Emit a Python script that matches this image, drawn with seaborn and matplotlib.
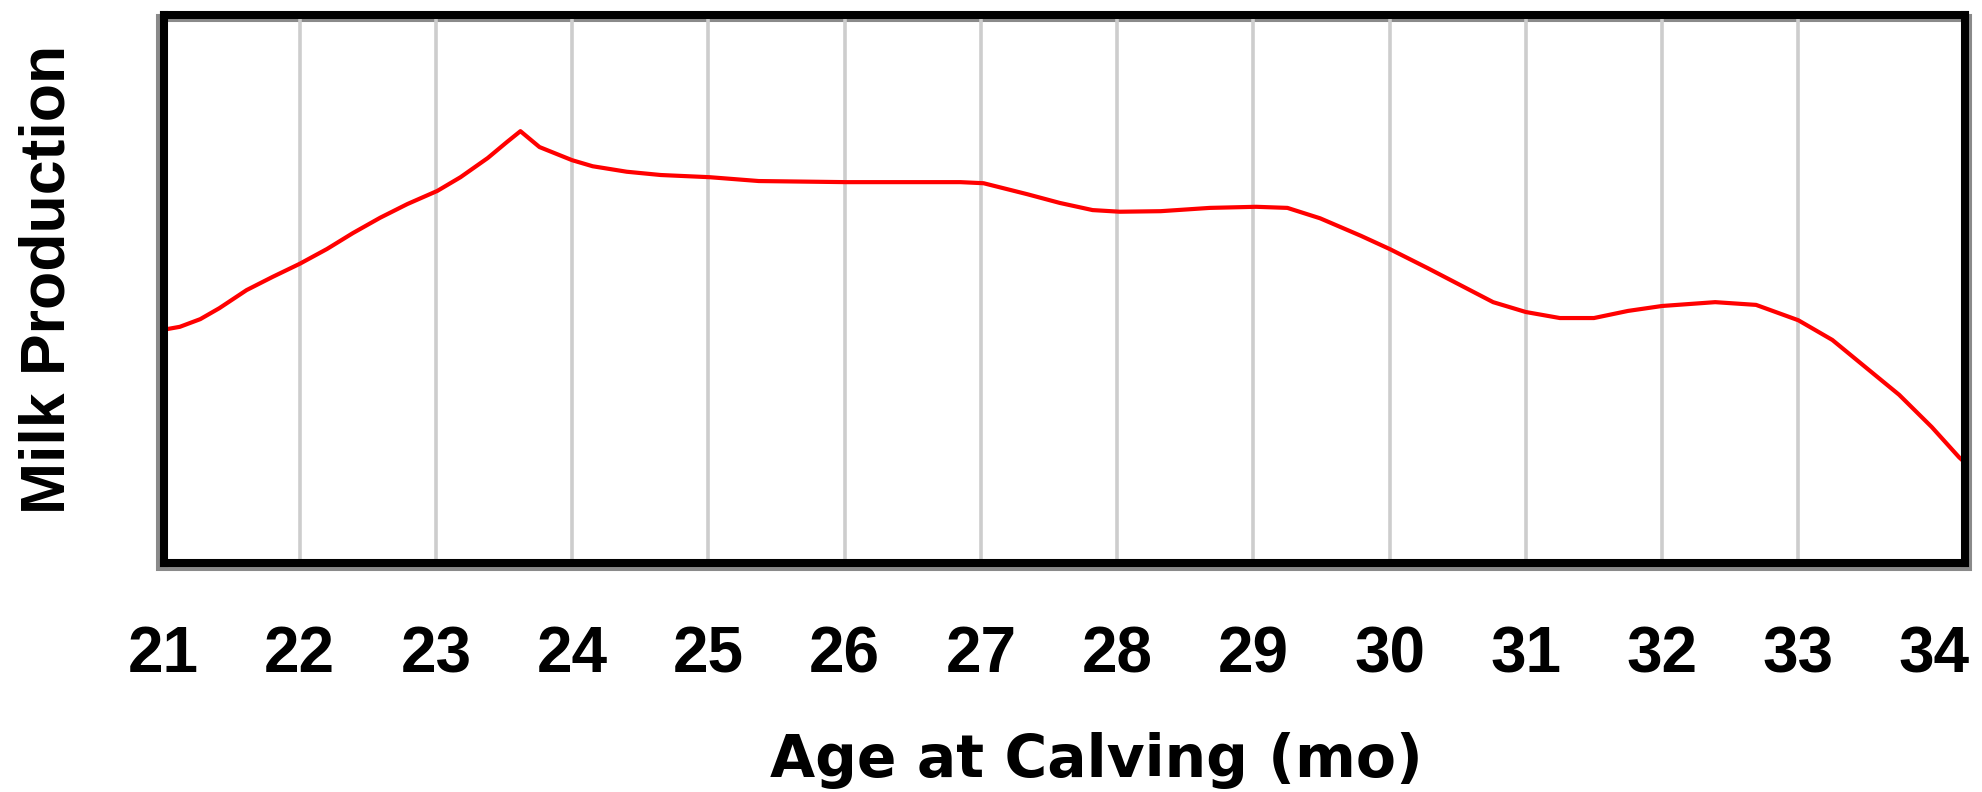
import matplotlib
matplotlib.use("Agg")
import matplotlib.pyplot as plt
from matplotlib.patches import Rectangle
import seaborn as sns
import pandas as pd

# Data (relative milk production, 0-100 scale)
age_months = [21.03, 21.12, 21.27, 21.41, 21.61, 21.80, 22.0, 22.20, 22.39, 22.59,
              22.79, 23.01, 23.18, 23.38, 23.52, 23.62, 23.76, 23.90, 24.0, 24.15,
              24.40, 24.65, 25.01, 25.37, 26.01, 26.85, 27.02, 27.34, 27.58, 27.82,
              28.02, 28.32, 28.68, 29.02, 29.25, 29.49, 29.79, 30.0, 30.28, 30.52,
              30.76, 31.0, 31.25, 31.50, 31.75, 32.0, 32.39, 32.69, 33.0, 33.25,
              33.49, 33.74, 33.98, 34.18, 34.22]
milk_production = [42.7, 43.1, 44.5, 46.5, 49.8, 52.2, 54.6, 57.3, 60.2, 63.0,
                   65.5, 67.9, 70.4, 73.9, 76.8, 78.8, 75.9, 74.5, 73.5, 72.4,
                   71.4, 70.8, 70.4, 69.7, 69.5, 69.5, 69.3, 67.3, 65.7, 64.4,
                   64.1, 64.2, 64.8, 65.0, 64.8, 62.9, 59.7, 57.3, 53.8, 50.7,
                   47.6, 45.8, 44.7, 44.7, 46.0, 46.9, 47.6, 47.1, 44.3, 40.7,
                   35.8, 30.7, 24.8, 19.3, 18.4]
tick_values = list(range(21, 35))
tick_labels = [str(v) for v in tick_values]
x_label = "Age at Calving (mo)"
y_label = "Milk Production"

df = pd.DataFrame({"age": age_months, "milk": milk_production})

sns.set_theme(style="white")
plt.rcParams["font.family"] = ["Liberation Sans", "DejaVu Sans"]

W, H = 1982, 792
fig = plt.figure(figsize=(W / 100, H / 100), dpi=100)
fig.patch.set_facecolor("white")

# axes frame centre lines (pixels): left 163.5, right 1964.5, top 15, bottom 563
ax = fig.add_axes([163.5 / W, (H - 563) / H, (1964.5 - 163.5) / W, (563 - 15) / H])
ax.patch.set_alpha(0)

# grey shadow of the frame
shadow = Rectangle((160 / W, (H - 567) / H), (1968 - 160) / W, (567 - 18) / H,
                   transform=fig.transFigure, fill=False, edgecolor="#8a8a8a",
                   linewidth=5.8, zorder=-1)
fig.add_artist(shadow)

for xv in tick_values[1:-1]:
    ax.axvline(xv, color="#cdcdcd", linewidth=2.6, zorder=1)

sns.lineplot(data=df, x="age", y="milk", ax=ax, color="#ff0000",
             linewidth=3.0, zorder=3, estimator=None, sort=False)
for ln in ax.get_lines():
    ln.set_solid_joinstyle("round")
    ln.set_solid_capstyle("round")

ax.set_xlim(21, 34.22)
ax.set_ylim(0, 100)
ax.set_yticks([])
ax.set_xticks(tick_values)
ax.set_xticklabels(tick_labels, fontsize=46, fontweight="bold",
                   family=["Liberation Sans", "DejaVu Sans"])
ax.tick_params(axis="x", length=0, pad=45, colors="black")
ax.set_xlabel("")
ax.set_ylabel("")
for s in ax.spines.values():
    s.set_visible(True)
    s.set_color("black")
    s.set_linewidth(5.8)
    s.set_zorder(5)

fig.text(1096 / W, (H - 777) / H, x_label, ha="center", va="baseline",
         fontsize=42, fontweight="bold", family=["DejaVu Sans"], color="black")
fig.text(48 / W, (H - 279) / H, y_label, ha="center", va="center", rotation=90,
         fontsize=45, fontweight="bold", family=["Liberation Sans", "DejaVu Sans"],
         color="black")

fig.savefig("out.png", dpi=100, facecolor="white")
